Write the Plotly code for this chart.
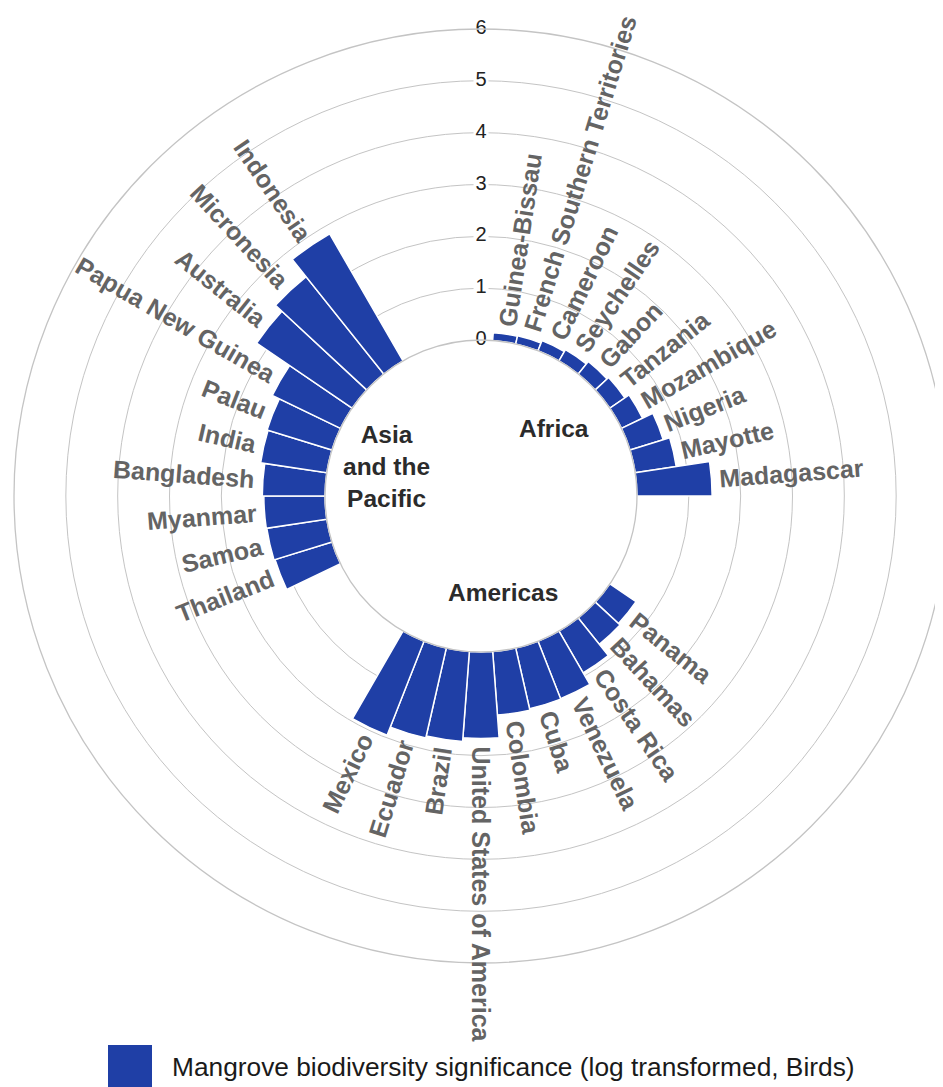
import math
import plotly.graph_objects as go

# ---------------- data ----------------
africa = ["Guinea-Bissau", "French Southern Territories", "Cameroon", "Seychelles", "Gabon",
          "Tanzania", "Mozambique", "Nigeria", "Mayotte", "Madagascar"]
africa_values = [0.15, 0.16, 0.21, 0.25, 0.31, 0.35, 0.45, 0.67, 0.80, 1.45]

americas = ["Panama", "Bahamas", "Costa Rica", "Venezuela", "Cuba", "Colombia",
            "United States of America", "Brazil", "Ecuador", "Mexico"]
americas_values = [0.61, 0.65, 0.93, 1.19, 1.20, 1.23, 1.67, 1.74, 1.78, 1.95]

asia = ["Thailand", "Samoa", "Myanmar", "Bangladesh", "India", "Palau",
        "Papua New Guinea", "Australia", "Micronesia", "Indonesia"]
asia_values = [1.15, 1.17, 1.18, 1.21, 1.29, 1.31, 1.46, 2.23, 2.40, 2.83]

group_labels = ["Africa", "Americas", "Asia<br>and the<br>Pacific"]
radial_ticks = [0, 1, 2, 3, 4, 5, 6]
legend_label = "Mangrove biodiversity significance (log transformed, Birds)"

# ---------------- style / layout constants ----------------
W, H = 943, 1087
ML, MR, MT, MB = 6, 3, 0, 0
DOM_Y = [0.12144, 0.98068]
HOLE = 0.334
R_MAX = 6
EMPTY_SLOTS = 4
BAR_COLOR = "#1F3FA6"
GRID_COLOR = "#c4c4c4"
LABEL_COLOR = "#646464"
LABEL_SIZE = 25
GROUP_SIZE = 24.5
GROUP_LABEL_R = -1.1
LABEL_GAP_PX = 8
FONT = "Liberation Sans, Arial, sans-serif"

groups = [(africa, africa_values), (americas, americas_values), (asia, asia_values)]
n_slots = sum(len(g[0]) for g in groups) + EMPTY_SLOTS * len(groups)
step = 360.0 / n_slots

names, values, thetas, group_thetas = [], [], [], []
slot = 1
for cats, vals in groups:
    start = slot
    for c, v in zip(cats, vals):
        names.append(c)
        values.append(v)
        thetas.append(slot * step)
        slot += 1
    group_thetas.append((start + slot - 1) / 2.0 * step)
    slot += EMPTY_SLOTS

# polar geometry (figure pixels) used to place the rotated text
plot_w = W - ML - MR
plot_h = H - MT - MB
radius_px = min(plot_w, plot_h * (DOM_Y[1] - DOM_Y[0])) / 2.0
cx = ML + plot_w / 2.0
cy = MT + plot_h * (1 - (DOM_Y[0] + DOM_Y[1]) / 2.0)
inner_px = HOLE * radius_px
unit_px = (radius_px - inner_px) / R_MAX


def to_paper(rpx, theta):
    t = math.radians(theta)
    px = cx + rpx * math.sin(t)
    py = cy - rpx * math.cos(t)
    return (px - ML) / plot_w, 1 - (py - MT) / plot_h


# Arial Bold advance widths (em)
BW = {' ': .278, '-': .333, 'A': .722, 'B': .722, 'C': .722, 'E': .667, 'F': .611, 'G': .778,
      'I': .278, 'M': .833, 'N': .722, 'P': .667, 'R': .722, 'S': .667, 'T': .611, 'U': .722,
      'V': .667, 'a': .556, 'b': .611, 'c': .556, 'd': .611, 'e': .556, 'f': .333, 'g': .611,
      'h': .611, 'i': .278, 'l': .278, 'm': .889, 'n': .611, 'o': .611, 'p': .611, 'q': .611,
      'r': .389, 's': .556, 't': .333, 'u': .611, 'w': .778, 'x': .556, 'y': .556, 'z': .5,
      'v': .556, 'k': .556}


def text_w(s, size):
    return sum(BW.get(ch, .6) for ch in s) * size


fig = go.Figure()

fig.add_trace(go.Barpolar(
    r=values, theta=thetas, width=step,
    marker=dict(color=BAR_COLOR, line=dict(color="white", width=1.5)),
    name=legend_label, showlegend=False, hoverinfo="text", text=names,
))

fig.add_trace(go.Scatterpolar(
    r=radial_ticks, theta=[0] * len(radial_ticks), mode="markers+text",
    marker=dict(symbol="square", size=15, color="white", line=dict(width=0)),
    text=[str(t) for t in radial_ticks], textposition="middle center",
    textfont=dict(family=FONT, size=20, color="#222222"),
    showlegend=False, hoverinfo="skip", cliponaxis=False,
))

annotations = []
for name, v, th in zip(names, values, thetas):
    w = text_w(name, LABEL_SIZE)
    rc = inner_px + v * unit_px + LABEL_GAP_PX + w / 2.0
    x, y = to_paper(rc, th)
    ang = th - 90 if th <= 180 else th - 270
    annotations.append(dict(
        x=x, y=y, xref="paper", yref="paper", text=name, showarrow=False,
        textangle=ang, xanchor="center", yanchor="middle",
        font=dict(family=FONT, size=LABEL_SIZE, color=LABEL_COLOR, weight="bold"),
    ))

for g, th in zip(group_labels, group_thetas):
    x, y = to_paper(inner_px + GROUP_LABEL_R * unit_px, th)
    annotations.append(dict(
        x=x, y=y, xref="paper", yref="paper", text=g, showarrow=False,
        xanchor="center", yanchor="middle",
        font=dict(family=FONT, size=GROUP_SIZE, color="#2b2b2b", weight="bold"),
    ))

# legend (custom key), figure pixel positions
LEG_X0, LEG_W, LEG_Y0, LEG_Y1, LEG_TEXT_X, LEG_TEXT_Y = 100, 44, 1037, 1079, 162, 1059
annotations.append(dict(
    x=(LEG_TEXT_X - ML) / plot_w, y=1 - (LEG_TEXT_Y - MT) / plot_h,
    xref="paper", yref="paper", text=legend_label, showarrow=False,
    xanchor="left", yanchor="middle",
    font=dict(family=FONT, size=26.3, color="#1a1a1a"),
))
shapes = [dict(
    type="rect", xref="paper", yref="paper",
    x0=(LEG_X0 - ML) / plot_w, x1=(LEG_X0 + LEG_W - ML) / plot_w,
    y0=1 - (LEG_Y1 - MT) / plot_h, y1=1 - (LEG_Y0 - MT) / plot_h,
    fillcolor=BAR_COLOR, line=dict(width=0),
)]

fig.update_layout(
    width=W, height=H,
    margin=dict(l=ML, r=MR, t=MT, b=MB, pad=0),
    paper_bgcolor="white", plot_bgcolor="white",
    showlegend=False,
    font=dict(family=FONT),
    polar=dict(
        domain=dict(x=[0, 1], y=DOM_Y),
        hole=HOLE,
        bgcolor="white",
        radialaxis=dict(range=[0, R_MAX], tickvals=radial_ticks, showticklabels=False,
                        ticks="", showline=False, gridcolor=GRID_COLOR, gridwidth=1.3),
        angularaxis=dict(rotation=90, direction="clockwise", showgrid=False,
                         showticklabels=False, ticks="", showline=True,
                         linecolor=GRID_COLOR, linewidth=1.3),
    ),
    annotations=annotations,
    shapes=shapes,
)

fig.write_html("out.html")
